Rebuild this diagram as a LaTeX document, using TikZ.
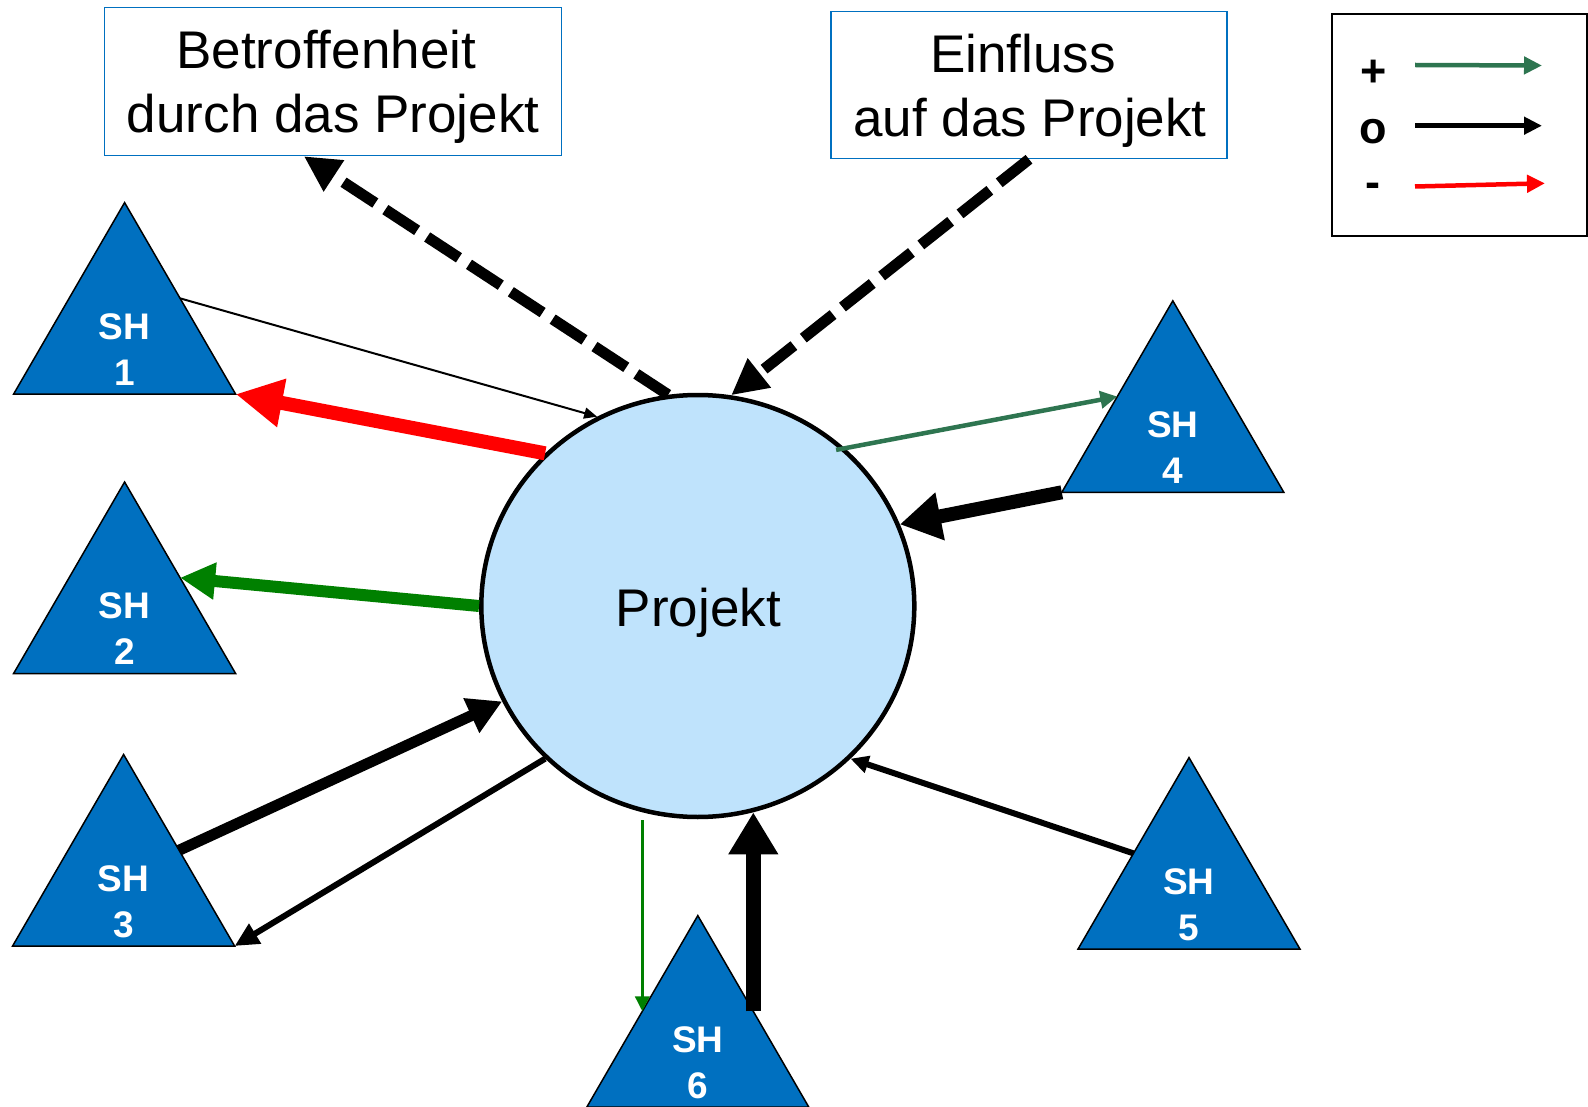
\documentclass[tikz,border=0pt]{standalone}
\usepackage{fontspec}
\setmainfont{Liberation Sans}
\usetikzlibrary{arrows.meta,calc,shapes.geometric}
\definecolor{shblue}{RGB}{0,112,192}
\definecolor{projfill}{RGB}{191,227,252}
\definecolor{dkgreen}{RGB}{46,117,80}
\definecolor{pgreen}{RGB}{0,128,0}
\definecolor{pred}{RGB}{255,0,0}
\definecolor{boxblue}{RGB}{0,112,192}
\tikzset{
  tri/.style={fill=shblue, draw=black, line width=1.5pt, line join=miter},
  shtext/.style={text=white, font=\bfseries\fontsize{37}{46}\selectfont, align=center, inner sep=0pt},
  infobox/.style={draw=boxblue, line width=1.5pt, fill=white, inner sep=0pt},
  boxtext/.style={font=\fontsize{53}{64}\selectfont, align=center, inner sep=0pt},
  projnode/.style={ellipse, draw=black, line width=4.5pt, fill=projfill, minimum width=433pt, minimum height=422pt, inner sep=0pt},
  legendbox/.style={draw=black, line width=2pt, fill=white, inner sep=0pt},
  legsym/.style={font=\bfseries\fontsize{45}{50}\selectfont, inner sep=0pt, anchor=base},
  dasharrow/.style={line width=11pt, dash pattern=on 38pt off 12pt, -{Triangle[length=36pt,width=35pt]}},
  thinblack/.style={line width=2pt, -{Triangle[length=13pt,width=11pt]}},
  medblack/.style={line width=6pt, -{Triangle[length=24pt,width=22pt]}},
  sh5arrow/.style={line width=6pt, -{Triangle[length=18pt,width=17pt]}},
  redarrow/.style={draw=pred, line width=14pt, -{Triangle[length=47pt,width=46pt]}},
  greenthick/.style={draw=pgreen, line width=12pt, -{Triangle[length=35pt,width=35pt]}},
  greenthin/.style={draw=pgreen, line width=3.5pt, -{Triangle[length=15pt,width=14pt]}},
  dkgreenarrow/.style={draw=dkgreen, line width=4.5pt, -{Triangle[length=17pt,width=17pt]}},
  blackthick/.style={line width=11pt, -{Triangle[length=34pt,width=36pt]}},
  blackbig/.style={line width=14pt, -{Triangle[length=41pt,width=46pt]}},
  blackbigv/.style={line width=15pt, -{Triangle[length=42pt,width=47pt]}},
  legarrow/.style={line width=4.5pt, -{Triangle[length=18pt,width=17pt]}},
}
\newcommand\shtri[4]{%
  \coordinate (#1a) at (#2,#3);
  \coordinate (#1l) at ({#2-111},{#3+191.5});
  \coordinate (#1r) at ({#2+111},{#3+191.5});
  \coordinate (#1ml) at ($(#1a)!0.5!(#1l)$);
  \coordinate (#1mr) at ($(#1a)!0.5!(#1r)$);
  \draw[tri] (#1a) -- (#1l) -- (#1r) -- cycle;
  \node[shtext] (#1) at ({#2},{#3+147}) {SH\\#4};
}
\begin{document}
\begin{tikzpicture}[x=1pt,y=-1pt]
\fill[white] (0,0) rectangle (1588,1107);
\useasboundingbox (0,0) rectangle (1588,1107);

% boxes
\node[infobox, minimum width=457pt, minimum height=148pt] (box1) at (333.2,81.5) {};
\node[boxtext] (box1t) at (333.2,87) {Betroffenheit\hspace*{14pt}\\durch das Projekt};
\node[infobox, minimum width=396pt, minimum height=147pt] (box2) at (1029,85) {};
\node[boxtext] (box2t) at (1030,90.5) {Einfluss\hspace*{14pt}\\auf das Projekt};

% legend
\node[legendbox, minimum width=255pt, minimum height=222pt] (legend) at (1459,125.4) {};
\node[legsym] (lplus) at (1373.3,87) {+};
\node[legsym] (lnull) at (1373.3,143.4) {o};
\node[legsym] (lminus) at (1373.3,198) {-};
\coordinate (lg1s) at (1415,65);   \coordinate (lg1e) at (1542,65.5);
\coordinate (lg2s) at (1415,125.7); \coordinate (lg2e) at (1542,125.7);
\coordinate (lg3s) at (1415,186.5); \coordinate (lg3e) at (1545,183.3);
\draw[legarrow, draw=dkgreen] (lg1s) -- (lg1e);
\draw[legarrow, draw=black] (lg2s) -- (lg2e);
\draw[legarrow, draw=pred] (lg3s) -- (lg3e);

% stakeholders
\shtri{sh1}{124.6}{202.6}{1}
\shtri{sh2}{124.6}{482}{2}
\shtri{sh3}{123.6}{754.5}{3}
\shtri{sh4}{1172.8}{300.8}{4}
\shtri{sh5}{1189}{757.6}{5}
\shtri{sh6}{697.8}{915.6}{6}

% project
\node[projnode] (proj) at (697.8,606) {};
\node[boxtext] (projt) at (698.3,613) {Projekt};

% connectors
\draw[dasharrow] (proj.98.4) -- ($(box1.south west)!0.436!(box1.south east)$);
\draw[dasharrow] (box2.south) -- (proj.81.1);
\draw[thinblack] (sh1mr) -- (proj.118.8);
\draw[redarrow] (proj.135.8) -- (sh1r);
\draw[greenthick] (proj.180.5) -- (sh2mr);
\draw[blackthick] (sh3mr) -- (proj.206.1);
\draw[medblack] (proj.225.2) -- (sh3r);
\draw[dkgreenarrow, shorten <=-9pt] (proj.47.3) -- (sh4ml);
\draw[blackbig] (sh4l) -- (proj.22.9);
\draw[sh5arrow] (sh5ml) -- (proj.315.9);
\draw[greenthin, shorten <=8pt] (sh6ml |- proj.255.6) -- (sh6ml);
\draw[blackbigv] (sh6mr) -- (sh6mr |- proj.285.4);
\end{tikzpicture}
\end{document}
